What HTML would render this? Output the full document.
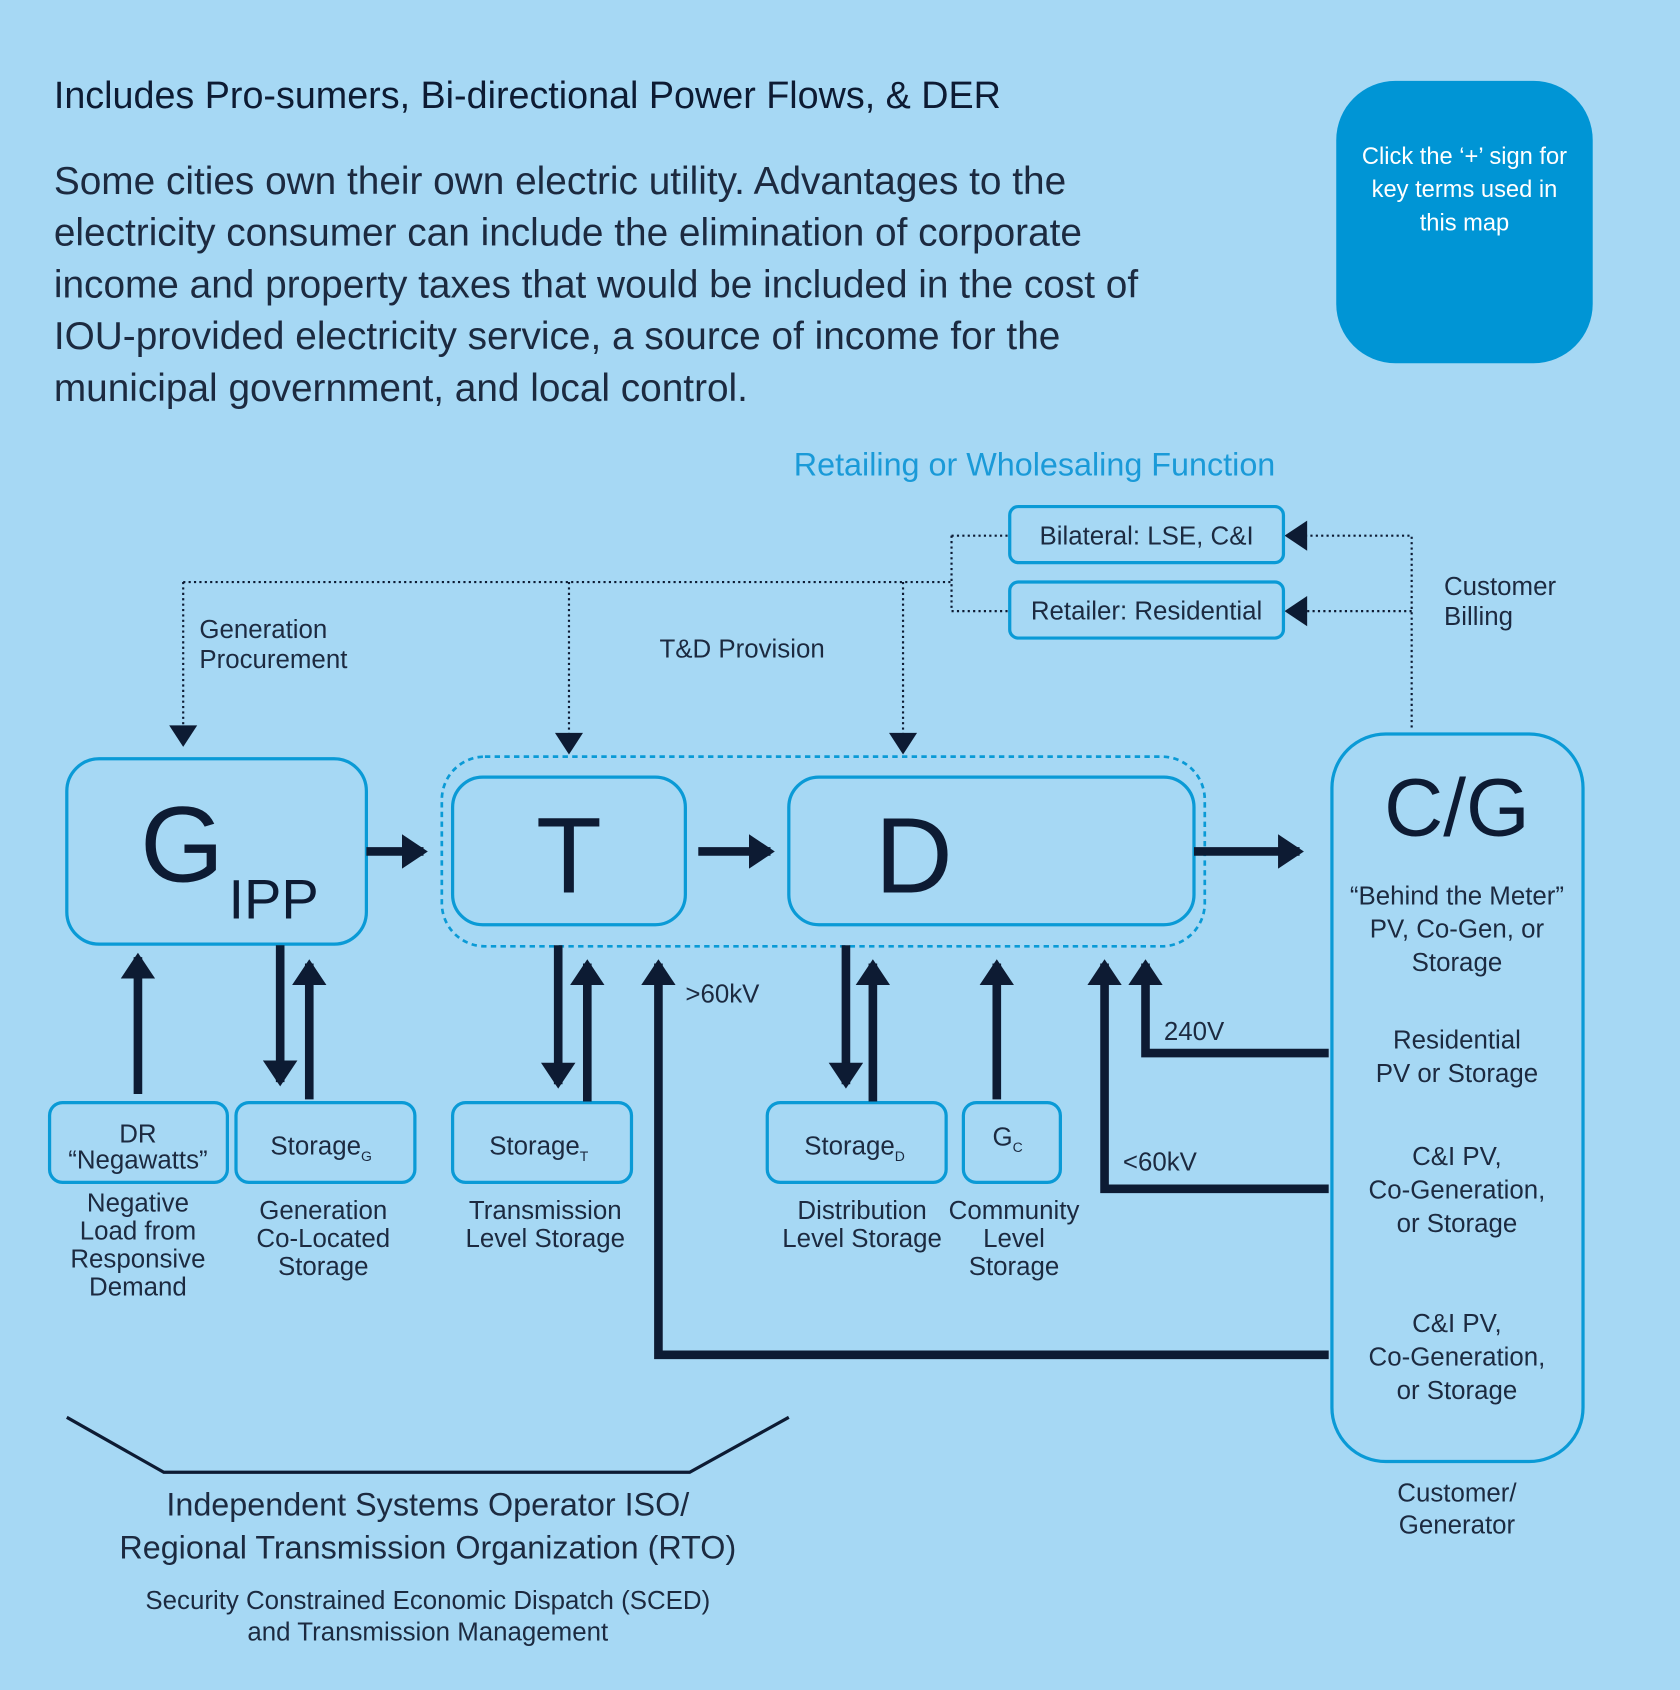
<!DOCTYPE html>
<html><head><meta charset="utf-8"><style>
html,body{margin:0;padding:0;background:#a6d8f4;}
svg{display:block;font-family:"Liberation Sans",sans-serif;}
</style></head><body>
<svg width="1680" height="1690" viewBox="0 0 1559 1568" preserveAspectRatio="none" xmlns="http://www.w3.org/2000/svg">
<defs>
<marker id="ah" markerWidth="4" markerHeight="4" refX="2.5" refY="2" orient="auto" markerUnits="strokeWidth"><path d="M0,0 L3,2 L0,4 Z" fill="#0d1b33"/></marker>
</defs>
<rect width="1559" height="1568" fill="#a6d8f4"/>
<g fill="#0d1b33">
<text x="50" y="100" font-size="35">Includes Pro-sumers, Bi-directional Power Flows, &amp; DER</text>
<g font-size="36" fill="#1c2a40">
<text x="50" y="180">Some cities own their own electric utility.  Advantages to the</text>
<text x="50" y="228">electricity consumer can include the elimination of corporate</text>
<text x="50" y="276">income and property taxes that would be included in the cost of</text>
<text x="50" y="324">IOU-provided electricity service, a source of income for the</text>
<text x="50" y="372">municipal government, and local control.</text>
</g>
</g>
<g>
<rect x="1240" y="75" width="238" height="262" rx="55" fill="#0095d5"/>
<g fill="#fff" font-size="22" text-anchor="middle"><text x="1359" y="152">Click the ‘+’ sign for</text><text x="1359" y="183">key terms used in</text><text x="1359" y="214">this map</text></g>
</g>
<text x="960" y="441" font-size="30" fill="#1a9ad8" text-anchor="middle">Retailing or Wholesaling Function</text>
<g fill="none" stroke="#0d1b33" stroke-width="2" stroke-dasharray="2,3">
<path d="M883,497 H937 M883,497 V567 H937 M170,540 H883 M170,540 V680 M528,540 V688 M838,540 V688 M1310,675 V497 H1212 M1310,567 H1212"/>
</g>
<g fill="#0d1b33">
<path d="M157,673 L183,673 L170,693 Z"/><path d="M515,680 L541,680 L528,700 Z"/><path d="M825,680 L851,680 L838,700 Z"/>
<path d="M1213,483 L1213,511 L1192,497 Z"/><path d="M1213,553 L1213,581 L1192,567 Z"/>
</g>
<g fill="none" stroke="#0a9ad6" stroke-width="3">
<rect x="937" y="470" width="254" height="52" rx="8"/>
<rect x="937" y="540" width="254" height="52" rx="8"/>
<rect x="62" y="704" width="278" height="172" rx="30"/>
<rect x="410" y="702" width="708" height="176" rx="40" stroke-dasharray="5,4" stroke-width="2.5"/>
<rect x="420" y="721" width="216" height="137" rx="28"/>
<rect x="732" y="721" width="376" height="137" rx="28"/>
<rect x="1236" y="681" width="233" height="675" rx="50"/>
<rect x="46" y="1023" width="165" height="74" rx="12"/>
<rect x="219" y="1023" width="166" height="74" rx="12"/>
<rect x="420" y="1023" width="166" height="74" rx="12"/>
<rect x="712" y="1023" width="166" height="74" rx="12"/>
<rect x="894" y="1023" width="90" height="74" rx="12"/>
</g>
<g fill="#1c2a40" font-size="24" text-anchor="middle">
<text x="1064" y="505">Bilateral: LSE, C&amp;I</text>
<text x="1064" y="575">Retailer: Residential</text>
</g>
<g fill="#1c2a40" font-size="24">
<text x="185" y="592">Generation</text><text x="185" y="620">Procurement</text>
<text x="612" y="610">T&amp;D Provision</text>
<text x="1340" y="552">Customer</text><text x="1340" y="580">Billing</text>
<text x="636" y="930">&gt;60kV</text><text x="1080" y="965">240V</text><text x="1042" y="1086">&lt;60kV</text>
</g>
<g fill="#0d1b33">
<text x="130" y="818" font-size="100">G</text><text x="212" y="852" font-size="52">IPP</text>
<text x="528" y="828" font-size="100" text-anchor="middle">T</text>
<text x="848" y="828" font-size="100" text-anchor="middle">D</text>
<text x="1352" y="775" font-size="76" text-anchor="middle">C/G</text>
</g>
<g fill="none" stroke="#0d1b33" stroke-width="8" marker-end="url(#ah)">
<path d="M340,790 H393"/><path d="M648,790 H715"/><path d="M1108,790 H1206"/>
<path d="M128,1015 V888"/><path d="M260,877 V1004"/><path d="M287,1020 V894"/>
<path d="M518,877 V1006"/><path d="M545,1022 V894"/>
<path d="M785,877 V1006"/><path d="M810,1022 V894"/><path d="M925,1020 V894"/>
<path d="M1233,1103 H1025 V894"/><path d="M1233,977 H1063 V894"/><path d="M1233,1257 H611 V894"/>
</g>
<g fill="#1c2a40" font-size="24" text-anchor="middle">
<text x="128" y="1060">DR</text><text x="128" y="1084">“Negawatts”</text>
<text x="298" y="1071">Storage<tspan font-size="13" dy="6">G</tspan></text>
<text x="500" y="1071">Storage<tspan font-size="13" dy="6">T</tspan></text>
<text x="793" y="1071">Storage<tspan font-size="13" dy="6">D</tspan></text>
<text x="935" y="1063">G<tspan font-size="13" dy="6">C</tspan></text>
<text x="128" y="1124">Negative</text><text x="128" y="1150">Load from</text><text x="128" y="1176">Responsive</text><text x="128" y="1202">Demand</text>
<text x="300" y="1131">Generation</text><text x="300" y="1157">Co-Located</text><text x="300" y="1183">Storage</text>
<text x="506" y="1131">Transmission</text><text x="506" y="1157">Level Storage</text>
<text x="800" y="1131">Distribution</text><text x="800" y="1157">Level Storage</text>
<text x="941" y="1131">Community</text><text x="941" y="1157">Level</text><text x="941" y="1183">Storage</text>
<text x="1352" y="839">“Behind the Meter”</text><text x="1352" y="870">PV, Co-Gen, or</text><text x="1352" y="901">Storage</text>
<text x="1352" y="973">Residential</text><text x="1352" y="1004">PV or Storage</text>
<text x="1352" y="1081">C&amp;I PV,</text><text x="1352" y="1112">Co-Generation,</text><text x="1352" y="1143">or Storage</text>
<text x="1352" y="1236">C&amp;I PV,</text><text x="1352" y="1267">Co-Generation,</text><text x="1352" y="1298">or Storage</text>
<text x="1352" y="1393">Customer/</text><text x="1352" y="1423">Generator</text>
</g>
<path d="M62,1315 L152,1366 L640,1366 L732,1315" fill="none" stroke="#0d1b33" stroke-width="3"/>
<g fill="#1c2a40" text-anchor="middle">
<text x="397" y="1406" font-size="30">Independent Systems Operator ISO/</text>
<text x="397" y="1446" font-size="30">Regional Transmission Organization (RTO)</text>
<text x="397" y="1493" font-size="24">Security Constrained Economic Dispatch (SCED)</text>
<text x="397" y="1522" font-size="24">and Transmission Management</text>
</g>
</svg>
</body></html>
